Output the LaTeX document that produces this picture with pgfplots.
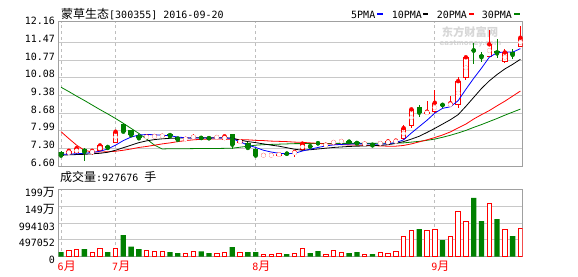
\documentclass[border=0pt]{standalone}
\usepackage{pgfplots}
\usepackage{pgfplotstable}
\pgfplotsset{compat=1.18}
\usepackage{fontspec}
\setmainfont{DejaVu Sans}
\newfontfamily\cjk{Noto Sans CJK SC}
\newfontfamily\mono{DejaVu Sans Mono}
\definecolor{cgreen}{RGB}{0,128,0}
\definecolor{cgrid}{RGB}{200,200,200}
\definecolor{cdash}{RGB}{190,190,190}
\definecolor{cborder}{RGB}{160,160,160}
\definecolor{cwm}{RGB}{215,215,215}
\newcommand\numf{\mono\fontsize{10}{10}\selectfont}
\newcommand\hz[1]{{\cjk\fontsize{12}{12}\selectfont #1}}
% up (red) candles: index open high low close
\pgfplotstableread{
i o h l c
1 7.06 7.26 7.03 7.20
2 7.10 7.40 7.08 7.30
4 7.10 7.28 7.05 7.20
5 7.20 7.45 7.18 7.41
7 7.52 7.96 7.50 7.95
11 7.73 7.80 7.70 7.76
12 7.75 7.80 7.72 7.78
13 7.77 7.82 7.74 7.79
16 7.65 7.72 7.63 7.67
17 7.73 7.85 7.71 7.75
20 7.72 7.78 7.70 7.74
21 7.63 7.79 7.62 7.77
23 7.55 7.62 7.50 7.57
26 7.01 7.06 6.99 7.03
27 7.01 7.06 6.99 7.03
28 7.04 7.08 7.02 7.06
30 7.08 7.17 6.94 7.15
31 7.22 7.50 7.20 7.48
34 7.40 7.47 7.38 7.44
35 7.52 7.57 7.49 7.54
36 7.56 7.62 7.53 7.58
39 7.46 7.51 7.44 7.48
41 7.48 7.54 7.40 7.50
42 7.50 7.60 7.48 7.57
43 7.53 7.63 7.51 7.60
44 7.67 8.21 7.64 8.09
45 8.17 8.83 8.08 8.83
47 8.65 9.16 8.61 8.74
48 8.71 9.59 8.70 9.09
50 8.97 9.37 8.93 9.07
51 9.00 10.09 8.90 9.94
52 10.05 10.88 10.00 10.88
55 10.90 11.95 10.88 11.39
57 10.70 11.20 10.64 11.07
59 11.29 12.11 11.27 11.65
}\upT
% down (green) candles
\pgfplotstableread{
i o h l c
0 7.14 7.19 6.94 7.01
3 7.26 7.30 6.81 7.15
6 7.39 7.42 7.28 7.31
8 8.25 8.30 7.89 7.95
9 8.00 8.03 7.78 7.81
10 7.82 7.85 7.66 7.69
14 7.87 7.90 7.71 7.77
15 7.73 7.76 7.61 7.63
18 7.72 7.75 7.67 7.70
19 7.71 7.74 7.66 7.69
22 7.86 7.87 7.28 7.44
24 7.50 7.55 7.28 7.31
25 7.28 7.30 6.99 7.01
29 7.10 7.12 7.05 7.08
32 7.40 7.44 7.33 7.36
33 7.51 7.54 7.45 7.49
37 7.57 7.61 7.52 7.55
38 7.53 7.56 7.46 7.49
40 7.47 7.49 7.38 7.41
46 8.91 9.00 8.52 8.70
49 9.02 9.09 8.87 9.00
53 11.17 11.43 10.60 11.14
54 10.97 11.10 10.70 10.88
56 11.12 11.58 10.84 11.03
58 11.07 11.20 10.80 10.97
}\dnT
\begin{document}
\begin{tikzpicture}
\path[use as bounding box] (0pt,0pt) rectangle (578pt,276pt);
% watermark
\node[text=cwm, inner sep=0pt] at (470pt,243.5pt) {\cjk\bfseries\fontsize{11.3}{11.3}\selectfont 东方财富网};
\node[text=cwm, inner sep=0pt] at (470.5pt,232.7pt) {\bfseries\fontsize{7}{7}\selectfont eastmoney.com};
% title
\node[anchor=base west, inner sep=0pt] at (61pt,257.6pt) {\hz{蒙草生态}{\numf [300355] 2016-09-20}};
% legend
\node[anchor=base west, inner sep=0pt] at (351pt,257.6pt) {\numf 5PMA};
\fill[blue] (377.3pt,260.5pt) rectangle (382.7pt,263pt);
\node[anchor=base west, inner sep=0pt] at (391.7pt,257.6pt) {\numf 10PMA};
\fill[black] (423pt,260.5pt) rectangle (428.4pt,263pt);
\node[anchor=base west, inner sep=0pt] at (436.7pt,257.6pt) {\numf 20PMA};
\fill[red] (469pt,260.5pt) rectangle (474.4pt,263pt);
\node[anchor=base west, inner sep=0pt] at (481.7pt,257.6pt) {\numf 30PMA};
\fill[cgreen] (514.4pt,260.5pt) rectangle (519.8pt,263pt);
% volume caption
\node[anchor=base west, inner sep=0pt] at (60pt,94.8pt) {\hz{成交量}{\numf :927676 }\hz{手}};

% ---------------- price panel
\begin{axis}[
  at={(58.7pt,110pt)}, anchor=south west, scale only axis,
  width=463.8pt, height=144.3pt,
  xmin=-0.3, xmax=59.27, ymin=6.60, ymax=12.28,
  xtick={0,7,25,48}, xticklabels={,,,},
  xmajorgrids, x grid style={draw=cdash, line width=0.9pt, dash pattern=on 3pt off 3pt},
  ytick={6.60,7.295,7.99,8.685,9.38,10.075,10.77,11.465},
  yticklabels={6.60,7.30,7.99,8.68,9.38,10.08,10.77,11.47},
  extra y ticks={12.16}, extra y tick labels={12.16}, extra y tick style={grid=none},
  ymajorgrids, y grid style={draw=cgrid, line width=0.9pt},
  major tick length=0pt,
  axis line style={draw=cborder, line width=1pt},
  yticklabel style={font=\numf, inner sep=0pt, anchor=east, xshift=-3.5pt, yshift=3.5pt},
]
% wicks
\addplot[color=red, only marks, mark=none, error bars/.cd, y dir=both, y explicit, error mark=none,
  error bar style={color=red, line width=0.9pt}]
  table[x=i, y=c, y error plus expr=\thisrow{h}-\thisrow{c}, y error minus expr=\thisrow{c}-\thisrow{l}] {\upT};
\addplot[color=cgreen, only marks, mark=none, error bars/.cd, y dir=both, y explicit, error mark=none,
  error bar style={color=cgreen, line width=0.9pt}]
  table[x=i, y=c, y error plus expr=\thisrow{h}-\thisrow{c}, y error minus expr=\thisrow{c}-\thisrow{l}] {\dnT};
% bodies
\addplot[color=red, only marks, mark=none, error bars/.cd, y dir=both, y explicit, error mark=none,
  error bar style={color=red, line width=5.4pt}]
  table[x=i, y expr=(\thisrow{o}+\thisrow{c})/2, y error expr={max((\thisrow{c}-\thisrow{o})/2,0.02)}] {\upT};
\addplot[color=white, only marks, mark=none, error bars/.cd, y dir=both, y explicit, error mark=none,
  error bar style={color=white, line width=3.6pt}]
  table[x=i, y expr=(\thisrow{o}+\thisrow{c})/2, y error expr={max((\thisrow{c}-\thisrow{o})/2-0.036,0)}] {\upT};
\addplot[color=cgreen, only marks, mark=none, error bars/.cd, y dir=both, y explicit, error mark=none,
  error bar style={color=cgreen, line width=5.3pt}]
  table[x=i, y expr=(\thisrow{o}+\thisrow{c})/2, y error expr={max((\thisrow{o}-\thisrow{c})/2,0.02)}] {\dnT};
% 30PMA
\addplot[cgreen, line width=0.8pt] coordinates {(0,9.70)(1,9.53)(2,9.35)(3,9.18)(4,9.00)(5,8.82)(6,8.65)(7,8.47)(8,8.28)(9,8.08)(10,7.88)(11,7.66)(12,7.42)(13,7.27)(14,7.28)(16,7.28)(18,7.29)(20,7.29)(22,7.30)(23,7.34)(24,7.38)(25,7.42)(26,7.44)(27,7.45)(28,7.46)(29,7.47)(30,7.48)(35,7.49)(40,7.49)(43,7.50)(44,7.51)(45,7.54)(46,7.57)(47,7.61)(48,7.66)(49,7.73)(50,7.81)(51,7.90)(52,8.00)(53,8.12)(54,8.23)(55,8.35)(56,8.47)(57,8.60)(58,8.72)(59,8.84)};
% 20PMA
\addplot[red, line width=0.8pt] coordinates {(0,7.95)(1,7.68)(2,7.42)(3,7.22)(4,7.15)(5,7.15)(6,7.16)(7,7.18)(8,7.22)(9,7.27)(10,7.33)(11,7.37)(12,7.42)(13,7.47)(14,7.51)(15,7.56)(16,7.60)(17,7.63)(18,7.65)(19,7.66)(20,7.66)(21,7.66)(22,7.65)(23,7.64)(24,7.63)(25,7.61)(26,7.60)(27,7.58)(28,7.57)(29,7.56)(30,7.54)(31,7.53)(32,7.51)(33,7.49)(34,7.47)(35,7.46)(36,7.44)(37,7.43)(38,7.42)(39,7.41)(40,7.40)(41,7.39)(42,7.38)(43,7.38)(44,7.41)(45,7.47)(46,7.55)(47,7.63)(48,7.72)(49,7.82)(50,7.94)(51,8.10)(52,8.25)(53,8.45)(54,8.62)(55,8.78)(56,8.97)(57,9.15)(58,9.35)(59,9.55)};
% 10PMA
\addplot[black, line width=0.8pt] coordinates {(0,7.03)(1,7.04)(2,7.05)(3,7.06)(4,7.08)(5,7.10)(6,7.14)(7,7.22)(8,7.32)(9,7.42)(10,7.52)(11,7.59)(12,7.64)(13,7.67)(14,7.69)(15,7.70)(16,7.70)(17,7.71)(18,7.71)(19,7.71)(20,7.71)(21,7.71)(22,7.70)(23,7.62)(24,7.56)(25,7.52)(26,7.47)(27,7.42)(28,7.38)(29,7.32)(30,7.26)(31,7.22)(32,7.24)(33,7.27)(34,7.30)(35,7.33)(36,7.35)(37,7.37)(38,7.38)(39,7.39)(40,7.40)(41,7.41)(42,7.44)(43,7.49)(44,7.56)(45,7.66)(46,7.77)(47,7.92)(48,8.08)(49,8.25)(50,8.42)(51,8.62)(52,8.95)(53,9.30)(54,9.65)(55,9.95)(56,10.20)(57,10.42)(58,10.60)(59,10.80)};
% 5PMA
\addplot[blue, line width=0.8pt] coordinates {(0,7.06)(1,7.07)(2,7.08)(3,7.10)(4,7.13)(5,7.18)(6,7.27)(7,7.42)(8,7.60)(9,7.74)(10,7.82)(11,7.84)(12,7.83)(13,7.81)(14,7.79)(15,7.74)(16,7.71)(17,7.70)(18,7.70)(19,7.70)(20,7.70)(21,7.71)(22,7.68)(23,7.55)(24,7.42)(25,7.33)(26,7.22)(27,7.15)(28,7.10)(29,7.08)(30,7.10)(31,7.19)(32,7.26)(33,7.33)(34,7.39)(35,7.43)(36,7.45)(37,7.46)(38,7.47)(39,7.47)(40,7.46)(41,7.46)(42,7.48)(43,7.52)(44,7.63)(45,7.90)(46,8.15)(47,8.40)(48,8.68)(49,8.87)(50,8.93)(51,9.17)(52,9.62)(53,10.05)(54,10.45)(55,10.88)(56,11.06)(57,11.09)(58,11.08)(59,11.22)};
\end{axis}

% ---------------- volume panel
\begin{axis}[
  at={(58.7pt,19.3pt)}, anchor=south west, scale only axis,
  width=463.8pt, height=67.4pt,
  xmin=-0.3, xmax=59.27, ymin=0, ymax=1988206,
  xtick={0,7,25,48}, xticklabels={6\hz{月},7\hz{月},8\hz{月},9\hz{月}},
  xticklabel style={font=\numf, text=red, inner sep=0pt, anchor=north west, xshift=-3.5pt, yshift=-4pt},
  xmajorgrids, x grid style={draw=cdash, line width=0.9pt, dash pattern=on 3pt off 3pt},
  ytick={0,497052,994103,1491154,1988206},
  yticklabels={0,497052,994103,149\hz{万},199\hz{万}},
  scaled y ticks=false,
  ymajorgrids, y grid style={draw=cgrid, line width=0.9pt},
  major tick length=0pt,
  axis line style={draw=cborder, line width=1pt},
  yticklabel style={font=\numf, inner sep=0pt, anchor=east, xshift=-3.5pt, yshift=-3.5pt},
]
\addplot[ybar, bar width=4.4pt, bar shift=0pt, draw=red, fill=white, line width=0.9pt] coordinates {(1,197000)(2,226000)(4,128000)(5,256000)(7,256000)(11,187000)(12,167000)(13,167000)(16,98000)(17,157000)(20,98000)(21,128000)(23,128000)(26,69000)(27,69000)(28,98000)(30,98000)(31,246000)(34,69000)(35,187000)(36,128000)(39,69000)(41,128000)(42,98000)(43,157000)(44,610000)(45,787000)(47,787000)(48,817000)(50,610000)(51,1348000)(52,1053000)(55,1585000)(57,817000)(59,830000)};
\addplot[ybar, bar width=5.3pt, bar shift=0pt, draw=none, fill=cgreen] coordinates {(0,138000)(3,226000)(6,138000)(8,640000)(9,295000)(10,226000)(14,138000)(15,108000)(18,157000)(19,108000)(22,285000)(24,138000)(25,138000)(29,79000)(32,108000)(33,167000)(37,108000)(38,138000)(40,79000)(46,817000)(49,492000)(53,1732000)(54,1053000)(56,1112000)(58,610000)};
\end{axis}
\end{tikzpicture}
\end{document}
